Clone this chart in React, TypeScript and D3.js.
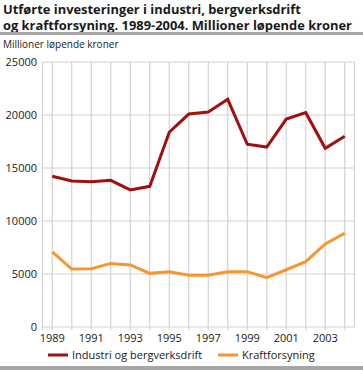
import React, { useEffect, useRef } from "react";
import * as d3 from "d3";

const years = [1989, 1990, 1991, 1992, 1993, 1994, 1995, 1996, 1997, 1998, 1999, 2000, 2001, 2002, 2003, 2004];
const industri = [14220, 13770, 13710, 13840, 12930, 13270, 18370, 20090, 20280, 21480, 17240, 16980, 19620, 20220, 16860, 17990];
const kraft = [7080, 5470, 5500, 6000, 5850, 5060, 5220, 4880, 4880, 5220, 5220, 4650, 5400, 6160, 7830, 8840];
const yTicks = [0, 5000, 10000, 15000, 20000, 25000];
const xLabels = [1989, 1991, 1993, 1995, 1997, 1999, 2001, 2003];
const titleLines = [
  "Utførte investeringer i industri, bergverksdrift",
  "og kraftforsyning. 1989-2004. Millioner løpende kroner",
];
const yTitle = "Millioner løpende kroner";
const seriesNames = ["Industri og bergverksdrift", "Kraftforsyning"];
const colors = ["#a0100f", "#f7962e"];

const W = 363;
const H = 370;
const FONT = "'Open Sans', sans-serif";

export default function App() {
  const ref = useRef<SVGSVGElement | null>(null);

  useEffect(() => {
    const svg = d3.select(ref.current);
    svg.selectAll("*").remove();

    const left = 42.5,
      right = 354.5,
      top = 62,
      bottom = 327;

    const x = d3.scalePoint<number>().domain(years).range([left, right]).padding(0.5);
    const y = d3.scaleLinear().domain([0, 25000]).range([bottom, top]);

    // title
    svg
      .selectAll("text.title")
      .data(titleLines)
      .join("text")
      .attr("x", 3)
      .attr("y", (d, i) => 14 + i * 15.5)
      .attr("font-family", FONT)
      .attr("font-weight", "bold")
      .attr("font-size", 12.9)
      .attr("fill", "#1a1a1a")
      .text((d) => d);

    svg.append("rect").attr("x", 0).attr("y", 32).attr("width", W).attr("height", 3).attr("fill", "#a6a6a6");
    svg.append("rect").attr("x", 0).attr("y", 366).attr("width", W).attr("height", 4).attr("fill", "#a6a6a6");

    svg
      .append("text")
      .attr("x", 3)
      .attr("y", 48)
      .attr("font-family", FONT)
      .attr("font-size", 10)
      .attr("fill", "#1a1a1a")
      .text(yTitle);

    const grid = svg.append("g").attr("stroke", "#d2d2d2").attr("stroke-width", 1.2);
    // horizontal grid
    grid
      .selectAll("line.h")
      .data(yTicks)
      .join("line")
      .attr("x1", left)
      .attr("x2", right)
      .attr("y1", (d) => y(d))
      .attr("y2", (d) => y(d));
    // vertical grid at each year + borders
    grid
      .selectAll("line.v")
      .data(years)
      .join("line")
      .attr("x1", (d) => x(d)!)
      .attr("x2", (d) => x(d)!)
      .attr("y1", top)
      .attr("y2", bottom + 3);
    grid.append("line").attr("x1", left).attr("x2", left).attr("y1", top).attr("y2", bottom + 3);
    grid.append("line").attr("x1", right).attr("x2", right).attr("y1", top).attr("y2", bottom);

    // y labels
    svg
      .append("g")
      .selectAll("text")
      .data(yTicks)
      .join("text")
      .attr("x", 37)
      .attr("y", (d) => y(d) + 4)
      .attr("text-anchor", "end")
      .attr("font-family", FONT)
      .attr("font-size", 11)
      .attr("fill", "#1a1a1a")
      .text((d) => d);

    // x labels
    svg
      .append("g")
      .selectAll("text")
      .data(xLabels)
      .join("text")
      .attr("x", (d) => x(d)!)
      .attr("y", 342)
      .attr("text-anchor", "middle")
      .attr("font-family", FONT)
      .attr("font-size", 11)
      .attr("fill", "#1a1a1a")
      .text((d) => d);

    const line = d3
      .line<number>()
      .x((d, i) => x(years[i])!)
      .y((d) => y(d));

    [industri, kraft].forEach((s, i) => {
      svg
        .append("path")
        .datum(s)
        .attr("fill", "none")
        .attr("stroke", colors[i])
        .attr("stroke-width", 3)
        .attr("stroke-linejoin", "miter")
        .attr("d", line);
    });

    // legend
    const legendX = [48, 218];
    const lg = svg.append("g");
    seriesNames.forEach((name, i) => {
      lg.append("line")
        .attr("x1", legendX[i])
        .attr("x2", legendX[i] + 20)
        .attr("y1", 355)
        .attr("y2", 355)
        .attr("stroke", colors[i])
        .attr("stroke-width", 3);
      lg.append("text")
        .attr("x", legendX[i] + 24)
        .attr("y", 359)
        .attr("font-family", FONT)
        .attr("font-size", 11)
        .attr("fill", "#1a1a1a")
        .text(name);
    });
  }, []);

  return (
    <svg
      ref={ref}
      width={W}
      height={H}
      style={{ position: "absolute", left: 0, top: 0, background: "#fff" }}
    />
  );
}
